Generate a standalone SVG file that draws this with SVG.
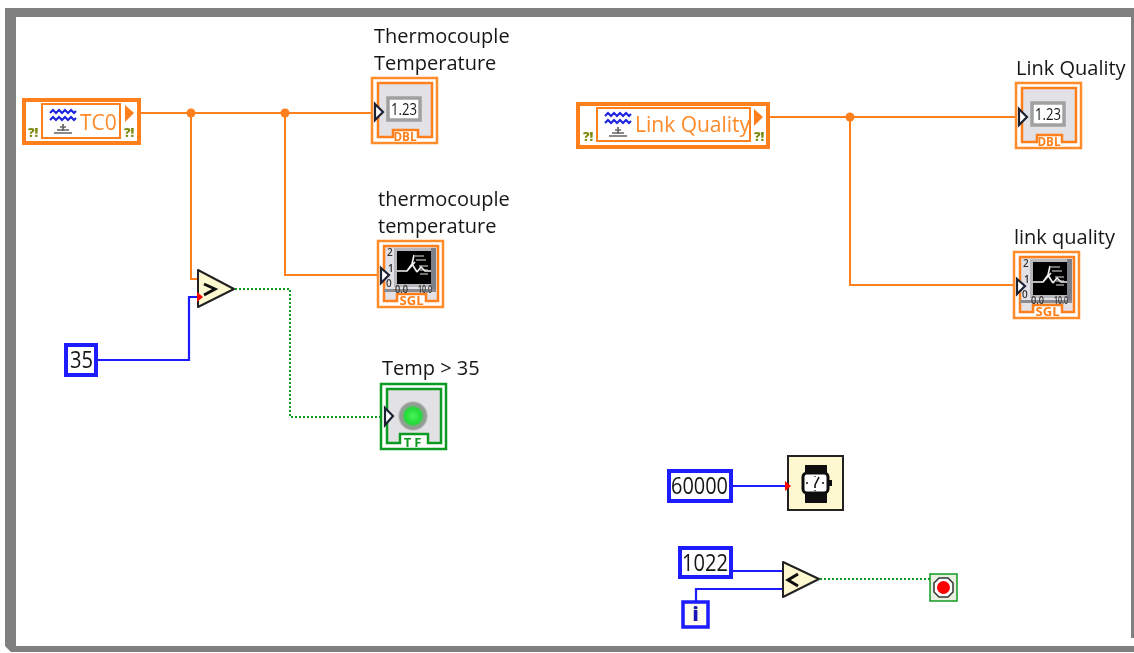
<svg xmlns="http://www.w3.org/2000/svg" width="1134" height="653" viewBox="0 0 1134 653">
<style>
text{font-family:"Open Sans","Liberation Sans",Arial,sans-serif;fill:#161616}
.lbl{font-size:20px}
.o{fill:none;stroke:#ff7f1a;stroke-width:2}
.bl{fill:none;stroke:#1a1aff;stroke-width:2.200}
.gw{fill:none;stroke:#109a22;stroke-width:2;stroke-dasharray:2 2}
.num{fill:#fff;stroke:#1a1aff;stroke-width:4}
.cmp{fill:#fdf8cf;stroke:#222;stroke-width:2;stroke-linejoin:round}
.warn{font-size:13px;font-weight:800;fill:#7d8a10}
.tag{font-size:12px;font-weight:700;fill:#ff7f1a;text-anchor:middle}
.cons{fill:#fff;stroke:#ff7f1a;stroke-width:4}
.inner{fill:none;stroke:#ff7f1a;stroke-width:2}
.orng{fill:#ff7f1a}
.val{font-size:23px}
.oframe{fill:#fff;stroke:#ff8c2a;stroke-width:2.500}
.iframe{fill:#e2e2e6;stroke:#ff7f1a;stroke-width:2.500}
.tri{fill:#fff;stroke:#1c2233;stroke-width:2.200}
.tick{font-size:10px;font-weight:600;fill:#333}
</style>
<defs>
<filter id="soft" x="-2%" y="-2%" width="104%" height="104%"><feGaussianBlur stdDeviation="0.35"/></filter>
<radialGradient id="led"><stop offset="0" stop-color="#4cf25a"/><stop offset="0.55" stop-color="#1fdc36"/><stop offset="0.68" stop-color="#7fa884"/><stop offset="0.88" stop-color="#9a9a9a"/><stop offset="1" stop-color="#d8d8da"/></radialGradient>
<g id="wave">
<path d="M0 4l3-3 3 3 3-3 3 3 3-3 3 3 3-3 3 3 2-2M0 11l3-3 3 3 3-3 3 3 3-3 3 3 3-3 3 3 2-2" fill="none" stroke="#1a22e0" stroke-width="2"/>
<path d="M13 15v7M10 18h6M7 21h12M4 24h18" stroke="#666" stroke-width="1.700" fill="none"/>
</g>
<g id="dbl">
<rect class="oframe" x="0" y="0" width="65" height="65"/>
<path class="iframe" d="M6 5H60V59H46V52H21V59H6Z"/>
<rect x="16" y="20" width="32" height="22" fill="#fff" stroke="#a0a0a0" stroke-width="3.500"/>
<text x="19" y="37" font-size="17" textLength="26" lengthAdjust="spacingAndGlyphs">1.23</text>
<path class="tri" d="M3 26l8 8-8 8Z"/>
<text class="tag" x="33" y="63" textLength="23" lengthAdjust="spacingAndGlyphs">DBL</text>
</g>
<g id="sgl">
<rect class="oframe" x="0" y="0" width="65" height="66"/>
<path class="iframe" d="M6 5H60V60H48V53H19V60H6Z"/>
<rect x="16" y="7" width="40" height="39" fill="#b8b8bc"/>
<rect x="53" y="7" width="5" height="44" fill="#7d8088"/>
<rect x="6" y="48" width="52" height="3" fill="#8c8c90"/>
<rect x="19" y="10" width="34" height="33" fill="#060606"/>
<path d="M19 30h10l5-7 5 8M29 30l8-9M36 14l-2 9M39 31l4-5 4 4h6" fill="none" stroke="#f2f2f2" stroke-width="1.600"/>
<path d="M37 15h9M38 19h10M41 25h9M42 29h8M42 33h8" stroke="#ddd" stroke-width="1.200"/>
<text class="tick" x="9" y="15">2</text>
<text class="tick" x="10" y="31">1</text>
<text class="tick" x="8" y="46">0</text>
<text class="tick" x="17" y="52" textLength="13" lengthAdjust="spacingAndGlyphs">0.0</text>
<text class="tick" x="40" y="52" textLength="14" lengthAdjust="spacingAndGlyphs">10.0</text>
<path class="tri" d="M3 27l8 7-8 8Z"/>
<text class="tag" x="33.500" y="64" textLength="24" lengthAdjust="spacingAndGlyphs">SGL</text>
</g>
</defs>

<rect width="1134" height="653" fill="#fff"/>
<g filter="url(#soft)">
<path id="frame" fill="#808080" fill-rule="evenodd" d="M5 8H1134V638H1131V17H16V646H1134V652H11L5 646Z"/>

<g id="connectors">
<path class="o" d="M139 113H372"/>
<path class="o" d="M191 113V279H198"/>
<path class="o" d="M285 113V275H378"/>
<path class="o" d="M769 117H1016"/>
<path class="o" d="M850 117V285H1014"/>
<circle class="orng" cx="191" cy="113" r="4.500"/>
<circle class="orng" cx="285" cy="113" r="4.500"/>
<circle class="orng" cx="850" cy="117" r="4.500"/>
<path class="bl" d="M97 360H189V297H199"/>
<path class="gw" d="M235 289H290V417H382"/>
<path class="bl" d="M731 486H788"/>
<path class="bl" d="M731 571H782"/>
<path class="bl" d="M696 602V589H782"/>
<path class="gw" d="M820 579H930"/>
</g>

<g id="tc0">
<rect class="cons" x="24" y="100" width="115" height="43"/>
<rect class="inner" x="42" y="104" width="78" height="34"/>
<use href="#wave" x="50" y="109"/>
<text x="80" y="130" font-size="21" style="fill:#ff8a2a">TC0</text>
<path class="orng" d="M125 105l9 8-9 9Z"/>
<text class="warn" x="28" y="137">?!</text>
<text class="warn" x="124" y="137">?!</text>
</g>

<g id="thermo-num">
<text class="lbl" x="374" y="43">Thermocouple</text>
<text class="lbl" x="374" y="70">Temperature</text>
<use href="#dbl" x="372" y="78"/>
</g>

<g id="thermo-chart">
<text class="lbl" x="378" y="206">thermocouple</text>
<text class="lbl" x="378" y="233">temperature</text>
<use href="#sgl" x="378" y="241"/>
</g>

<g id="gt">
<path class="cmp" d="M198 270L234 289L198 307Z"/>
<path d="M204 284l11 5-11 6" fill="none" stroke="#111" stroke-width="3"/>
<path d="M197 292l6 5-6 5Z" fill="#f00"/>
</g>

<g id="const35">
<rect class="num" x="66" y="345" width="30" height="30"/>
<text class="val" x="70" y="368" textLength="23" lengthAdjust="spacingAndGlyphs">35</text>
</g>

<g id="temp-led">
<text class="lbl" x="382" y="375">Temp &gt; 35</text>
<rect x="381" y="384" width="65" height="65" fill="#fff" stroke="#109a22" stroke-width="2.500"/>
<path d="M387 389H441V443H428V434H400V443H387Z" fill="#e2e2e4" stroke="#109a22" stroke-width="2.500"/>
<circle cx="413" cy="416" r="15" fill="url(#led)"/>
<path class="tri" d="M385 408l8 8-8 9Z"/>
<text x="414" y="447" font-size="13" font-weight="700" text-anchor="middle" style="fill:#109a22;letter-spacing:3px">TF</text>
</g>

<g id="link-quality">
<rect class="cons" x="578" y="104" width="190" height="43"/>
<rect class="inner" x="597" y="108" width="153" height="33"/>
<use href="#wave" x="605" y="112"/>
<text x="635" y="132" font-size="21" style="fill:#ff8a2a">Link Quality</text>
<path class="orng" d="M754 109l9 8-9 9Z"/>
<text class="warn" x="583" y="141">?!</text>
<text class="warn" x="754" y="141">?!</text>
</g>

<g id="lq-num">
<text class="lbl" x="1016" y="75">Link Quality</text>
<use href="#dbl" x="1016" y="83"/>
</g>

<g id="lq-chart">
<text class="lbl" x="1014" y="244">link quality</text>
<use href="#sgl" x="1014" y="252"/>
</g>

<g id="const60000">
<rect class="num" x="669" y="471" width="62" height="30"/>
<text class="val" x="671" y="494" textLength="57" lengthAdjust="spacingAndGlyphs">60000</text>
</g>

<g id="wait">
<rect x="788" y="456" width="55" height="54" fill="#fdf8cf" stroke="#222" stroke-width="2"/>
<path d="M805 465H827V473H805ZM805 493H827V503H805Z" fill="#111"/>
<rect x="803" y="473" width="25" height="20" rx="4" fill="#fff" stroke="#111" stroke-width="3"/>
<rect x="829" y="480" width="3" height="6" fill="#111"/>
<path d="M815 485l4-8M815 485v3" stroke="#111" stroke-width="1.600" fill="none"/>
<path d="M806 483h2M822 483h2M815 476v1M815 490v1" stroke="#111" stroke-width="1.300"/>
<path d="M785 481l6 5-6 5Z" fill="#f00"/>
</g>

<g id="const1022">
<rect class="num" x="680" y="548" width="51" height="29"/>
<text class="val" x="682" y="571" textLength="46" lengthAdjust="spacingAndGlyphs">1022</text>
</g>

<g id="lt">
<path class="cmp" d="M783 562L819 579L783 597Z"/>
<path d="M798 574l-10 6 10 6" fill="none" stroke="#111" stroke-width="3"/>
</g>

<g id="iter">
<rect x="683" y="602" width="25" height="25" fill="#fffdf0" stroke="#1a1aff" stroke-width="3.500"/>
<text x="695.500" y="621" font-size="19" font-weight="800" text-anchor="middle" style="fill:#1414b8">i</text>
</g>

<g id="stop">
<rect x="930" y="574" width="27" height="27" fill="#e8f0e0" stroke="#109a22" stroke-width="1.500"/>
<path d="M939 578h9l5 5v9l-5 5h-9l-5-5v-9Z" fill="#fff" stroke="#333" stroke-width="1.500"/>
<circle cx="943.500" cy="587.500" r="6.500" fill="#f00"/>
</g>
</g>
</svg>
